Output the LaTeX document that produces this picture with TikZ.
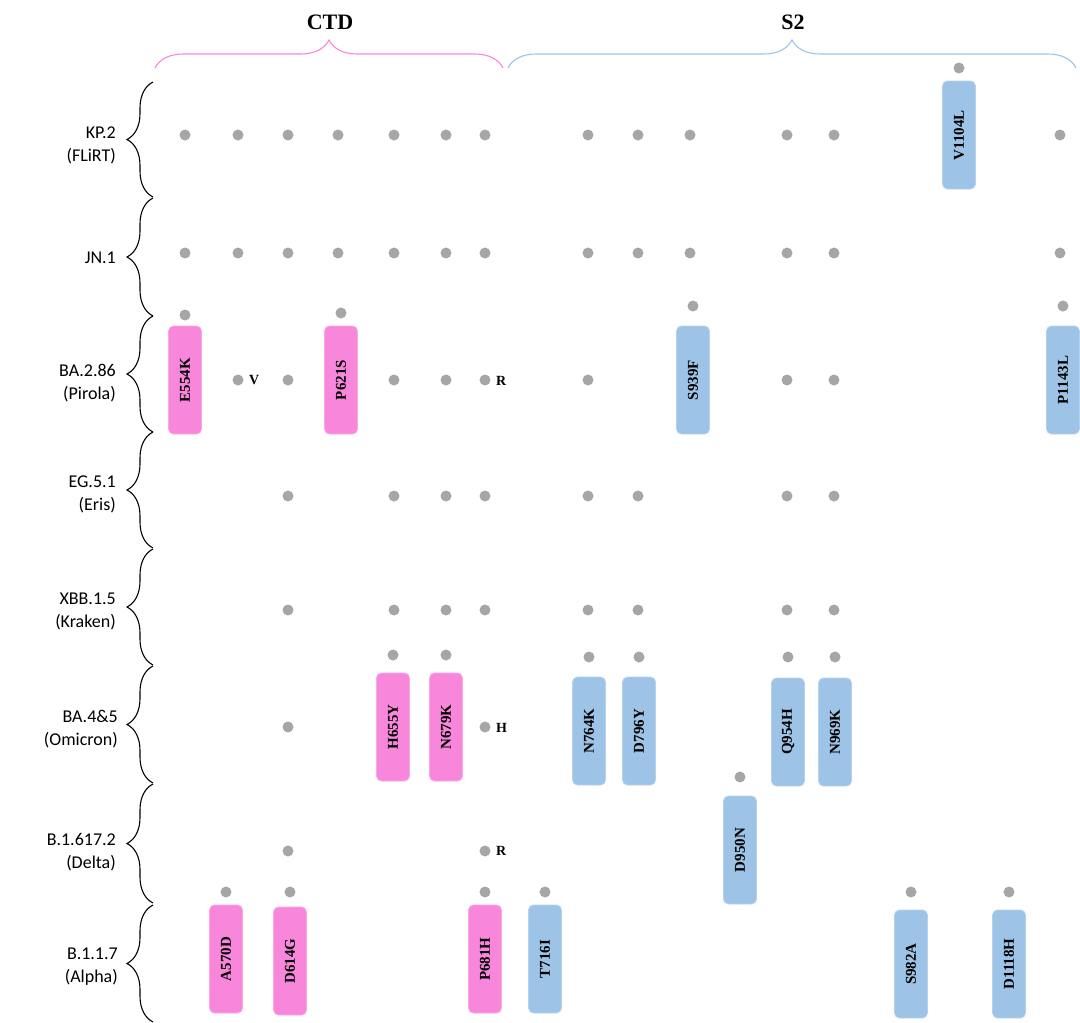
\documentclass[tikz,border=0pt]{standalone}
\usepackage{fontspec}
\setmainfont{Liberation Serif}
\newfontfamily\rowfont{Carlito}
\usetikzlibrary{decorations.pathreplacing}

\definecolor{ctdpink}{HTML}{F887DC}
\definecolor{stwoblue}{HTML}{9DC3E6}
\definecolor{dotgray}{HTML}{A6A6A6}

\tikzset{
  dot/.style={circle, fill=dotgray, inner sep=0pt, minimum size=11pt},
  mutbox/.style={rotate=90, rounded corners=5pt, minimum width=108pt, minimum height=33pt,
    inner sep=0pt, font=\fontsize{15}{15}\selectfont\bfseries, line width=0.8pt},
  ctdbox/.style={mutbox, fill=ctdpink, draw=ctdpink!75!white},
  stwobox/.style={mutbox, fill=stwoblue, draw=stwoblue!75!white},
  rowlabel/.style={anchor=east, align=right, font=\rowfont\fontsize{18}{23}\selectfont, inner sep=0pt},
  flag/.style={anchor=west, inner sep=0pt, font=\fontsize{14}{14}\selectfont\bfseries},
  region/.style={font=\fontsize{22}{22}\selectfont\bfseries},
  rowbrace/.style={decorate, decoration={brace, amplitude=26pt}, line width=1.1pt},
  topbrace/.style={decorate, decoration={brace, amplitude=28pt}, line width=1.1pt}
}

\begin{document}
\begin{tikzpicture}[x=1pt, y=-1pt]
\useasboundingbox (0,0) rectangle (1080,1023);

% regions on top
\draw[topbrace, ctdpink] (155,68) -- (503,68);
\draw[topbrace, stwoblue] (508,68) -- (1076,68);
\node[region] (ctd) at (330,22) {CTD};
\node[region] (s2) at (793,22) {S2};

% lineage braces
\foreach \top/\bot in {82/197, 198/316, 316/432, 432/548, 549/665, 666/783, 784/903, 905/1022}
  \draw[rowbrace] (153,\bot) -- (153,\top);

% lineage labels
\node[rowlabel] (kp2) at (116,145) {KP.2\\(FLiRT)};
\node[rowlabel] (jn1) at (116,258) {JN.1};
\node[rowlabel] (ba286) at (116,383) {BA.2.86\\(Pirola)};
\node[rowlabel] (eg51) at (116,494) {EG.5.1\\(Eris)};
\node[rowlabel] (xbb15) at (116,611) {XBB.1.5\\(Kraken)};
\node[rowlabel] (ba45) at (118,729) {BA.4\&5\\(Omicron)};
\node[rowlabel] (delta) at (116,852) {B.1.617.2\\(Delta)};
\node[rowlabel] (alpha) at (118,967) {B.1.1.7\\(Alpha)};

% shared mutations
\foreach \x in {185,238,288,338,394,446,485,588,638,690,787,834,1060} {
  \node[dot] (kp-\x) at (\x,135) {};
  \node[dot] (jn-\x) at (\x,253) {};
}
\foreach \x in {238,288,394,446,485,588,787,834}
  \node[dot] (pi-\x) at (\x,380) {};
\foreach \x in {288,394,446,485,588,638,787,834} {
  \node[dot] (er-\x) at (\x,496) {};
  \node[dot] (kr-\x) at (\x,610) {};
}
\foreach \x in {288,485} {
  \node[dot] (om-\x) at (\x,727) {};
  \node[dot] (de-\x) at (\x,851) {};
}

% residue changes
\node[flag] (v238) at (249,380) {V};
\node[flag] (r485) at (496,381) {R};
\node[flag] (h485) at (496,728) {H};
\node[flag] (r485d) at (496,851) {R};

% new mutations
\foreach \x/\y/\ty/\st/\name in {
  959/135/68/stwobox/V1104L,
  185/380/315/ctdbox/E554K, 341/380/313/ctdbox/P621S,
  693/380/306/stwobox/S939F, 1063/380/306/stwobox/P1143L,
  393/727/655/ctdbox/H655Y, 446/727/655/ctdbox/N679K,
  589/731/657/stwobox/N764K, 639/731/657/stwobox/D796Y,
  788/732/657/stwobox/Q954H, 835/732/657/stwobox/N969K,
  740/850/777/stwobox/D950N,
  226/959/892/ctdbox/A570D, 290/961/892/ctdbox/D614G,
  485/959/892/ctdbox/P681H, 545/959/892/stwobox/T716I,
  911/964/892/stwobox/S982A, 1009/964/892/stwobox/D1118H} {
  \node[\st] (m-\name) at (\x,\y) {\name};
  \node[dot] (t-\name) at (\x,\ty) {};
}
\end{tikzpicture}
\end{document}
